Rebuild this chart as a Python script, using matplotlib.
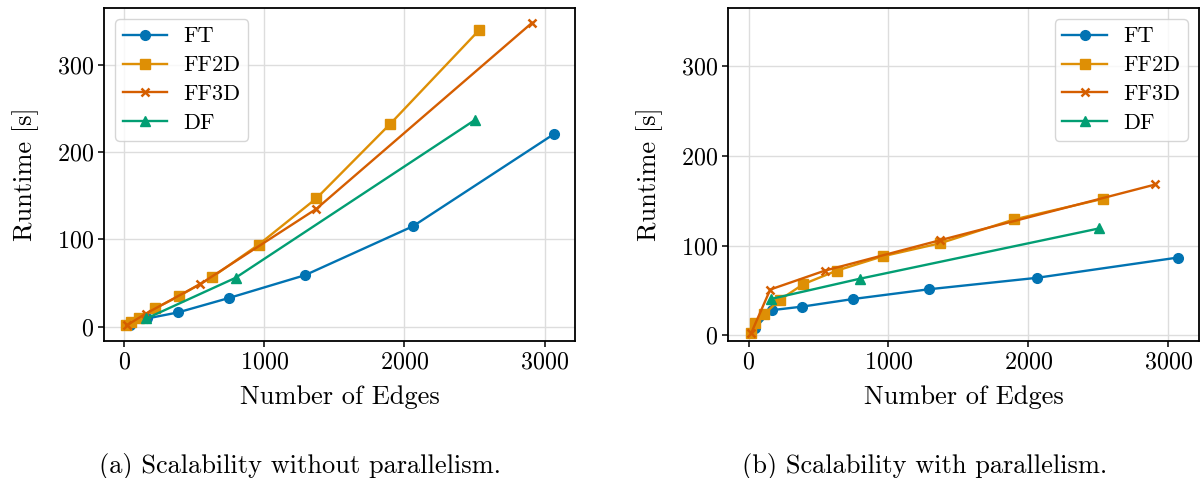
import matplotlib
matplotlib.use("Agg")
import matplotlib.pyplot as plt

plt.rcParams['font.family'] = ['cmr10', 'DejaVu Serif']
plt.rcParams['mathtext.fontset'] = 'cm'
plt.rcParams['axes.formatter.use_mathtext'] = True
plt.rcParams['font.size'] = 19

# colorblind palette
COLOURS = {'FT': '#0173B2', 'FF2D': '#DE8F05', 'FF3D': '#D55E00', 'DF': '#029E73'}
MARKERS = {'FT': 'o', 'FF2D': 's', 'FF3D': 'x', 'DF': '^'}

# Number of edges per method
ft_edges = [45, 165, 385, 750, 1290, 2060, 3070]
ff2d_edges = [15, 48, 110, 222, 392, 630, 960, 1372, 1897, 2535]
ff3d_edges = [18, 155, 545, 1372, 2910]
df_edges = [160, 795, 2505]

# (a) runtime without parallelism [s]
ft_seq = [2, 9.5, 16.4, 33, 59, 115, 221]
ff2d_seq = [1.9, 5.7, 9.5, 21, 35, 57, 94, 147, 232, 340]
ff3d_seq = [1.5, 15, 49, 135, 348]
df_seq = [9.5, 56, 237]

# (b) runtime with parallelism [s]
ft_par = [7.8, 28, 32, 40.5, 51.3, 64, 86.6]
ff2d_par = [2.2, 14, 23.4, 39.4, 57, 72, 88, 102.6, 129, 152]
ff3d_par = [2.2, 51, 72, 106, 168]
df_par = [40.5, 63, 119]

fig = plt.figure(figsize=(12.01, 4.78), dpi=100)
ax1 = fig.add_axes([0.0866, 0.2872, 0.3922, 0.6961])
ax2 = fig.add_axes([0.6064, 0.2872, 0.3919, 0.6961])

panels = [
    (ax1, [ft_seq, ff2d_seq, ff3d_seq, df_seq], 'upper left'),
    (ax2, [ft_par, ff2d_par, ff3d_par, df_par], 'upper right'),
]
edges = [ft_edges, ff2d_edges, ff3d_edges, df_edges]
names = ['FT', 'FF2D', 'FF3D', 'DF']

for ax, runtimes, loc in panels:
    for name, x, y in zip(names, edges, runtimes):
        ms = 7 if MARKERS[name] != 'x' else 6
        ax.plot(x, y, color=COLOURS[name], marker=MARKERS[name], markersize=ms,
                linewidth=1.7, markeredgewidth=1.8 if name == 'FF3D' else 1.0,
                label=name)
    ax.grid(True, color='#dddddd', linewidth=1.0)
    ax.set_axisbelow(True)
    ax.set_xlabel('Number of Edges', labelpad=9)
    ax.set_ylabel('Runtime [s]', labelpad=13)
    ax.set_xticks([0, 1000, 2000, 3000])
    ax.set_yticks([0, 100, 200, 300])
    for s in ax.spines.values():
        s.set_linewidth(1.3)
    ax.tick_params(width=1.1, length=4, labelsize=17.3)
    ax.legend(loc=loc, fontsize=16, handlelength=2.0, borderpad=0.35,
              labelspacing=0.42, handletextpad=0.72, framealpha=0.8,
              edgecolor='#cccccc')

ax1.set_xlim(-143, 3217)
ax1.set_ylim(-16, 365)
ax2.set_xlim(-145, 3221)
ax2.set_ylim(-6, 364.5)

fig.text(0.2502, 0.0105, '(a) Scalability without parallelism.', ha='center',
         va='baseline', fontsize=19)
fig.text(0.7698, 0.0105, '(b) Scalability with parallelism.', ha='center',
         va='baseline', fontsize=19)

fig.savefig('out.png', dpi=100)
